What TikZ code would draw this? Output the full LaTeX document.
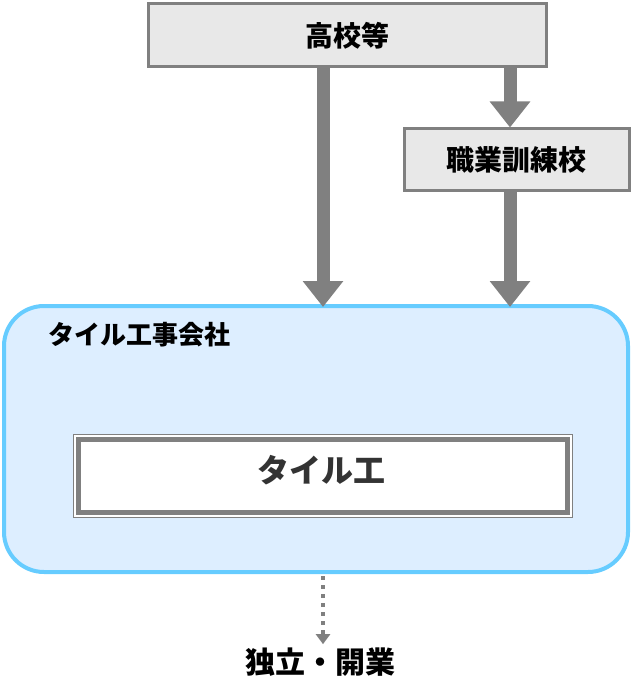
\documentclass[tikz,border=0pt]{standalone}
\usepackage{fontspec}
\setmainfont{Noto Sans CJK JP}
\usetikzlibrary{arrows.meta}
\definecolor{boxgray}{HTML}{808080}
\definecolor{boxfill}{HTML}{E8E8E8}
\definecolor{compline}{HTML}{66CCFF}
\definecolor{compfill}{HTML}{DDEEFF}
\definecolor{txtdark}{HTML}{333333}
\begin{document}
\begin{tikzpicture}[x=1pt,y=-1pt,
  graybox/.style={draw=boxgray,line width=3pt,fill=boxfill,inner sep=0pt,font=\bfseries\fontsize{28}{30}\selectfont},
  bigarrow/.style={draw=boxgray,line width=13pt,-{Triangle[width=39pt,length=26pt]}},
  dotarrow/.style={draw=boxgray,line width=4pt,dash pattern=on 4pt off 5pt,-{Triangle[width=14pt,length=10pt]}}]
\useasboundingbox (0,0) rectangle (631,700);
% company box
\node[draw=compline,line width=4pt,fill=compfill,rounded corners=40pt,minimum width=624pt,minimum height=266pt,inner sep=0pt] (comp) at (316,439) {};
\node[font=\bfseries\fontsize{26}{28}\selectfont,anchor=west] (complabel) at (45,335) {タイル工事会社};
% inner box
\node[draw=boxgray,line width=1pt,fill=white,minimum width=499pt,minimum height=83pt,inner sep=0pt] (innerout) at (322.5,475.5) {};
\node[draw=boxgray,line width=5pt,fill=white,minimum width=489pt,minimum height=73pt,inner sep=0pt] (tile) at (322.5,475.5) {};
\node[font=\bfseries\fontsize{32}{34}\selectfont,text=txtdark] (tiletext) at (321,470) {タイル工};
% top boxes
\node[graybox,minimum width=398pt,minimum height=63pt] (hs) at (347,35.5) {高校等};
\node[graybox,minimum width=225pt,minimum height=62pt] (voc) at (516.5,160) {職業訓練校};
% arrows
\coordinate (a1s) at (323,67);
\coordinate (a1e) at (323,307);
\draw[bigarrow] (hs.south -| a1s) -- (a1e);
\draw[bigarrow] (hs.south -| 510,0) -- (voc.north -| 510,0);
\draw[bigarrow] (voc.south -| 510,0) -- (510,307);
% bottom
\node[font=\bfseries\fontsize{30}{32}\selectfont] (indep) at (320,662) {独立・開業};
\draw[dotarrow] (323,576) -- (indep.north -| 323,0);
\end{tikzpicture}
\end{document}
